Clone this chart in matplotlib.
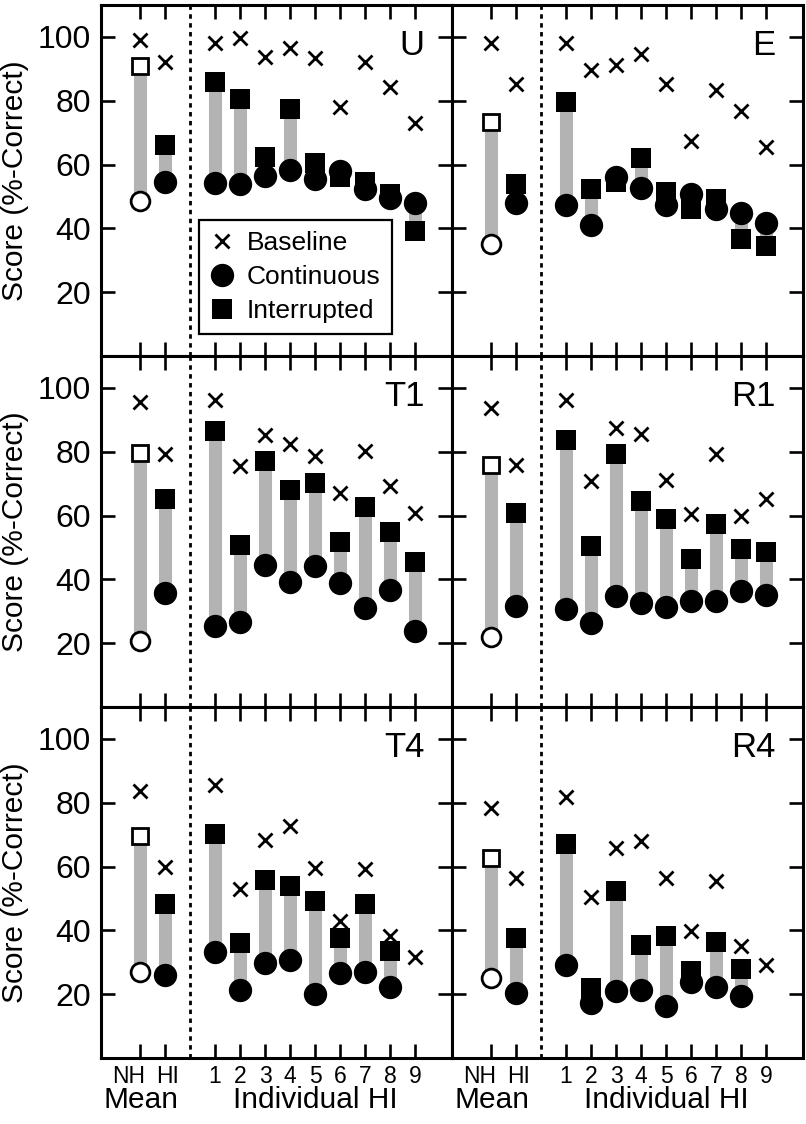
import numpy as np
import matplotlib
matplotlib.use("Agg")
import matplotlib.pyplot as plt
from matplotlib.lines import Line2D
from matplotlib.transforms import blended_transform_factory

plt.rcParams['font.family'] = ['Liberation Sans', 'DejaVu Sans']

nan = np.nan
# order: NH mean, HI mean, HI1..HI9
x_labels_mean = ["NH", "HI"]
x_labels_ind = ["1", "2", "3", "4", "5", "6", "7", "8", "9"]
panel_names = ["U", "E", "T1", "R1", "T4", "R4"]

U_base = [99, 92, 98.2, 99.8, 93.7, 96.6, 93.5, 78, 92.1, 84.3, 73]
U_cont = [48.6, 54.5, 54.3, 53.8, 56.3, 58.3, 55.6, 58, 52.3, 49.4, 47.8]
U_intr = [91, 66, 85.8, 80.6, 62.5, 77.5, 60.4, 56.2, 54.6, 50.7, 39.1]

E_base = [98, 85.3, 98, 89.6, 91.2, 94.5, 85.1, 67.5, 83.5, 76.9, 65.4]
E_cont = [35, 47.9, 47.3, 41.2, 56, 52.5, 47.3, 50.7, 46.2, 44.7, 41.8]
E_intr = [73.3, 53.8, 79.5, 52.2, 54.6, 62, 51.4, 46.2, 49.3, 36.6, 34.5]

T1_base = [95.6, 79.4, 96.3, 75.4, 85.3, 82.5, 78.8, 67, 80.3, 69.3, 60.7]
T1_cont = [20.7, 35.7, 25.3, 26.5, 44.5, 39.1, 44.1, 39, 31.1, 36.6, 23.8]
T1_intr = [79.7, 65.1, 86.4, 50.8, 77.1, 68.1, 70.3, 51.8, 62.8, 54.7, 45.5]

R1_base = [93.7, 75.9, 96.3, 70.7, 87.5, 85.6, 71, 60.5, 79.4, 59.8, 65.2]
R1_cont = [21.8, 31.7, 30.7, 26.2, 34.7, 32.6, 31.2, 33.3, 33.3, 36.4, 35.2]
R1_intr = [75.7, 60.7, 83.8, 50.6, 79.4, 64.5, 59, 46.4, 57.2, 49.5, 48.5]

T4_base = [83.8, 59.9, 85.7, 52.9, 68.4, 72.8, 59.7, 43, 59.2, 38.3, 31.5]
T4_cont = [27, 26, 33.3, 21.3, 29.7, 30.7, 20, 26.6, 26.8, 22.1, nan]
T4_intr = [69.7, 48.2, 70.2, 35.9, 55.9, 54, 49.3, 37.6, 48.2, 33.6, nan]

R4_base = [78.5, 56.3, 81.7, 50.4, 65.7, 67.9, 56.3, 39.9, 55.6, 35.1, 29.2]
R4_cont = [25, 20.5, 29.2, 17.2, 21, 21.4, 16.3, 23.9, 22.4, 19.3, nan]
R4_intr = [62.7, 37.6, 67.1, 22, 52.4, 35.5, 38.1, 27.3, 36.4, 28, nan]

panels = {
    "U": (U_base, U_cont, U_intr),
    "E": (E_base, E_cont, E_intr),
    "T1": (T1_base, T1_cont, T1_intr),
    "R1": (R1_base, R1_cont, R1_intr),
    "T4": (T4_base, T4_cont, T4_intr),
    "R4": (R4_base, R4_cont, R4_intr),
}

xpos = np.array([1, 2, 4, 5, 6, 7, 8, 9, 10, 11, 12], dtype=float)

W, H = 806, 1124
fig = plt.figure(figsize=(W / 100, H / 100), dpi=100)
left_px, top_px, pw, ph = 101, 5, 351, 351

GRAY = '#b3b3b3'
SPW = 2.2

axes = []
for i, name in enumerate(panel_names):
    r, c = divmod(i, 2)
    x0 = (left_px + c * pw) / W
    y0 = 1 - (top_px + (r + 1) * ph) / H
    ax = fig.add_axes([x0, y0, pw / W, ph / H])
    axes.append(ax)
    base, cont, intr = [np.array(v, dtype=float) for v in panels[name]]

    # gray connecting bars
    for xp, cv, iv in zip(xpos, cont, intr):
        if not (np.isnan(cv) or np.isnan(iv)):
            ax.plot([xp, xp], [cv, iv], color=GRAY, lw=9.4, solid_capstyle='butt', zorder=1)

    # baseline
    ax.plot(xpos, base, ls='none', marker='x', ms=9.5, mew=2.0, color='black', zorder=5)
    # NH (open)
    ax.plot(xpos[:1], intr[:1], ls='none', marker='s', ms=12, mew=2.0, mfc='white', mec='black', zorder=3)
    ax.plot(xpos[:1], cont[:1], ls='none', marker='o', ms=13.5, mew=2.0, mfc='white', mec='black', zorder=4)
    # HI (filled)
    ax.plot(xpos[1:], intr[1:], ls='none', marker='s', ms=13.7, mew=0, color='black', zorder=3)
    ax.plot(xpos[1:], cont[1:], ls='none', marker='o', ms=16.8, mew=0, color='black', zorder=4)

    ax.axvline(3, color='black', lw=2.0, ls=(0, (1.6, 1.6)), zorder=2)

    ax.set_xlim(-0.56, 13.48)
    ax.set_ylim(0, 110)
    ax.set_yticks([20, 40, 60, 80, 100])
    ax.set_xticks(xpos)
    ax.tick_params(axis='both', which='both', direction='in', length=10, width=1.9,
                   top=True, right=True, bottom=True, left=True,
                   labelbottom=False, labelleft=(c == 0), labelsize=23, pad=7)
    for sp in ax.spines.values():
        sp.set_linewidth(SPW)

    ax.text(0.922, 0.886, name, transform=ax.transAxes, ha='right', va='center', fontsize=25)

    if c == 0:
        yc = 1 - (top_px + (r + 0.5) * ph) / H
        fig.text(1 / W, yc, "Score (%-Correct)", rotation=90, ha='left', va='center', fontsize=21.5)

    if r == 2:
        tr = blended_transform_factory(ax.transData, ax.transAxes)
        ax.text(0.56, -0.072, x_labels_mean[0], transform=tr, ha='center', va='baseline', fontsize=16.5)
        ax.text(2.12, -0.072, x_labels_mean[1], transform=tr, ha='center', va='baseline', fontsize=16.5)
        for xp, lab in zip(xpos[2:], x_labels_ind):
            ax.text(xp, -0.072, lab, transform=tr, ha='center', va='baseline', fontsize=16.5)
        ax.text(1.05, -0.1425, "Mean", transform=tr, ha='center', va='baseline', fontsize=21.5)
        ax.text(8.0, -0.1425, "Individual HI", transform=tr, ha='center', va='baseline', fontsize=21.5)

# legend in first panel
handles = [
    Line2D([], [], ls='none', marker='x', ms=9.5, mew=2.0, color='black'),
    Line2D([], [], ls='none', marker='o', ms=16.8, mew=0, color='black'),
    Line2D([], [], ls='none', marker='s', ms=13.7, mew=0, color='black'),
]
leg = axes[0].legend(handles, ["Baseline", "Continuous", "Interrupted"],
                     loc='upper left', bbox_to_anchor=(0.279, 0.387), borderaxespad=0,
                     fontsize=19, frameon=True, fancybox=False, framealpha=1,
                     edgecolor='black', handlelength=0.9, handletextpad=0.5,
                     labelspacing=0.38, borderpad=0.42)
leg.get_frame().set_linewidth(1.6)
leg.set_zorder(10)

fig.savefig("out.png", dpi=100)
